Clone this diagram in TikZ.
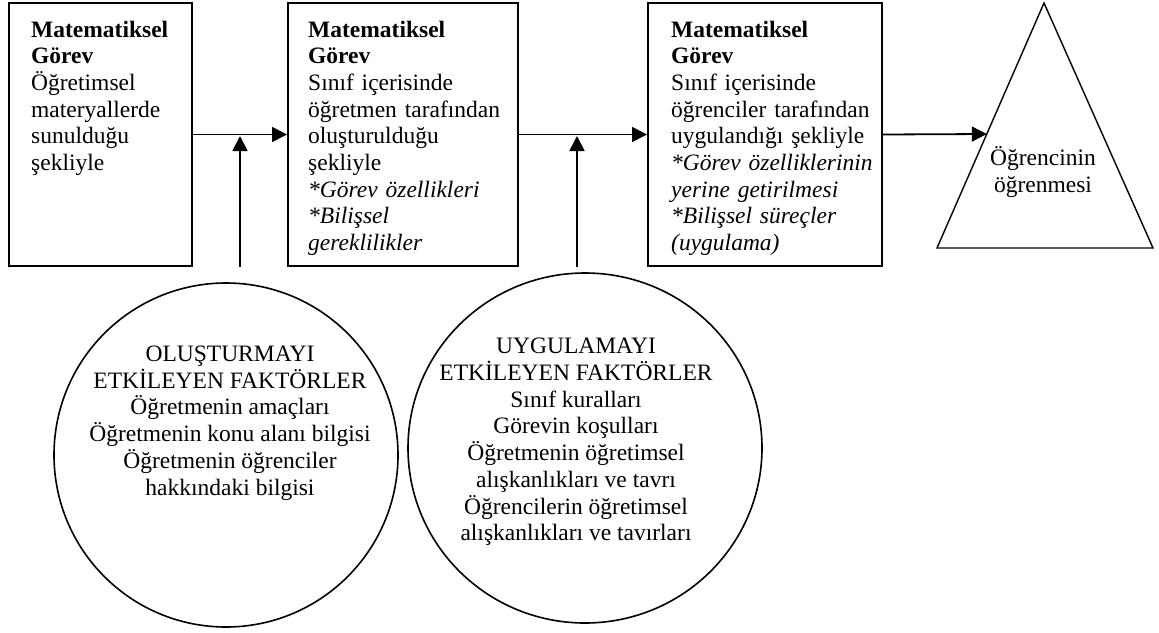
\documentclass[tikz,border=0pt]{standalone}
\usepackage{fontspec}
\setmainfont{Liberation Serif}
\usepackage{tikz}
\usetikzlibrary{arrows.meta}
\usetikzlibrary{calc}
\usetikzlibrary{shapes.geometric}

\tikzset{
  every node/.style={font=\fontsize{23.5}{26.7}\selectfont},
  gorev/.style={draw, line width=2pt, minimum height=263pt, inner sep=0pt},
  gorevtext/.style={anchor=base west, inner sep=0pt, text width=#1, align=left},
  faktor/.style={draw, ellipse, line width=1.6pt, inner sep=0pt},
  akis/.style={line width=1.8pt, -{Triangle[length=15pt,width=15pt]}},
}

\begin{document}
\begin{tikzpicture}[x=1pt,y=1pt,yscale=-1]
        \useasboundingbox (0,0) rectangle (1159,632);

        %Shape: Rectangle
        \node [gorev, minimum width=183pt] (m1) at (100.5,134.5) {};
        \node [gorev, minimum width=230pt] (m2) at (403,134.5) {};
        \node [gorev, minimum width=234pt] (m3) at (765,134.5) {};

        %Shape: Triangle
        \coordinate (apex) at (1044,3);
        \coordinate (bl) at (937,248);
        \coordinate (br) at (1153,248);
        \draw [line width=1.4pt, line join=miter] (apex) -- (bl) -- (br) -- cycle;
        \coordinate (tin) at ($(apex)!0.5347!(bl)$);

        %Shape: Ellipse
        \node [faktor, minimum width=344pt, minimum height=344pt] (f1) at (226,455) {};
        \node [faktor, minimum width=354pt, minimum height=350pt] (f2) at (585,448) {};

        % Text Node
        \node [gorevtext=160pt] (t1) at (31,37) {\textbf{Matematiksel}\\\textbf{Görev}\\Öğretimsel\\materyallerde\\sunulduğu\\şekliyle};
        % Text Node
        \node [gorevtext=210pt] (t2) at (308,37) {\textbf{Matematiksel}\\\textbf{Görev}\\Sınıf içerisinde\\öğretmen tarafından\\oluşturulduğu\\şekliyle\\\textit{*Görev özellikleri}\\\textit{*Bilişsel}\\\textit{gereklilikler}};
        % Text Node
        \node [gorevtext=211pt] (t3) at (671,37) {\textbf{Matematiksel}\\\textbf{Görev}\\Sınıf içerisinde\\öğrenciler tarafından\\uygulandığı şekliyle\\\textit{*Görev özelliklerinin}\\\textit{yerine getirilmesi}\\\textit{*Bilişsel süreçler}\\\textit{(uygulama)}};
        % Text Node
        \node [align=center, inner sep=0pt] (t4) at (1043,172) {Öğrencinin\\öğrenmesi};
        % Text Node
        \node [align=center, inner sep=0pt] (t5) at (230,423) {OLUŞTURMAYI\\ETKİLEYEN FAKTÖRLER\\Öğretmenin amaçları\\Öğretmenin konu alanı bilgisi\\Öğretmenin öğrenciler\\hakkındaki bilgisi};
        % Text Node
        \node [align=center, inner sep=0pt] (t6) at (576,442) {UYGULAMAYI\\ETKİLEYEN FAKTÖRLER\\Sınıf kuralları\\Görevin koşulları\\Öğretmenin öğretimsel\\alışkanlıkları ve tavrı\\Öğrencilerin öğretimsel\\alışkanlıkları ve tavırları};

        %Straight Lines
        \draw [akis] (m1.east) -- (m2.west);
        \draw [akis] (m2.east) -- (m3.west);
        \draw [akis] (m3.east) -- (tin);

        %Straight Lines
        \coordinate (u1) at (240,267);
        \coordinate (v1) at (240,136);
        \coordinate (u2) at (577,267);
        \coordinate (v2) at (577,136);
        \draw [akis] (u1) -- (v1);
        \draw [akis] (u2) -- (v2);

\end{tikzpicture}
\end{document}
